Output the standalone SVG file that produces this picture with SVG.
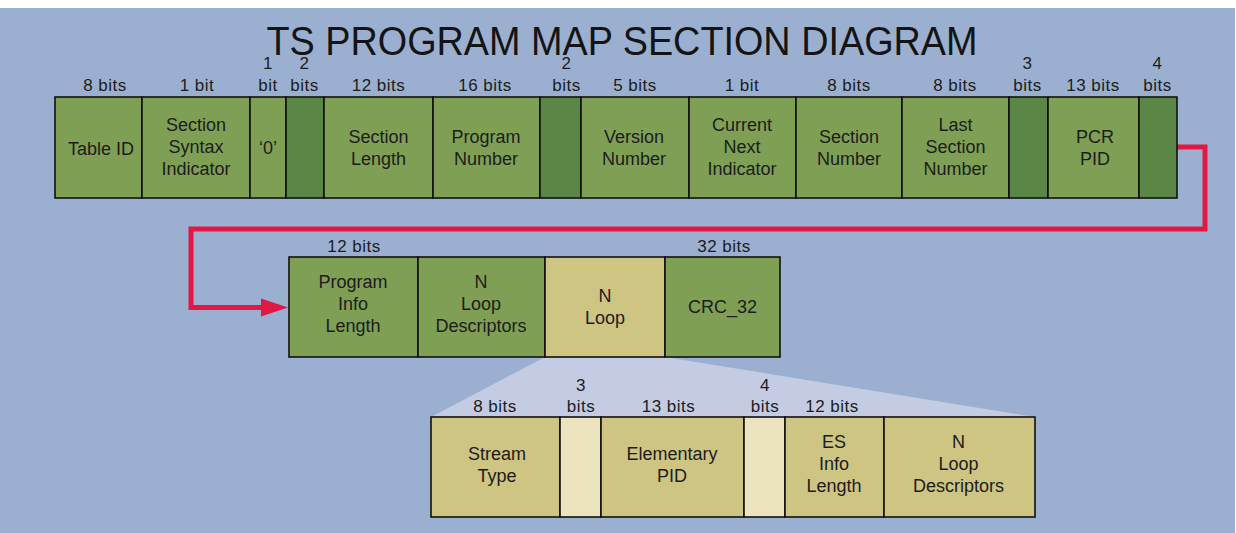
<svg xmlns="http://www.w3.org/2000/svg" width="1236" height="533" viewBox="0 0 1236 533">
<style>
text{font-family:"Liberation Sans",Arial,sans-serif;fill:#1c1c1c;text-anchor:middle}
.t{font-size:18px}
.b{font-size:17px;letter-spacing:0.5px}
.box{stroke:#111;stroke-width:1.6}
.g{fill:#7FA054}
.dg{fill:#5B8746}
.tan{fill:#CFC583}
.lt{fill:#EBE4BE}
.title{font-size:41px;fill:#141414}
</style>
<rect x="0" y="8" width="1235" height="525" fill="#9BB0D0"/>
<polygon points="545,357 665,357 1035,417 431,417" fill="#C3CCE2"/>
<text class="title" x="622" y="55" textLength="711" lengthAdjust="spacingAndGlyphs">TS PROGRAM MAP SECTION DIAGRAM</text>

<g id="connectors">
<polyline points="1177,147 1205,147 1205,229 191,229 191,307.5 270,307.5" fill="none" stroke="#E21844" stroke-width="5" stroke-linejoin="miter"/>
<polygon points="261,298.5 288,307.5 261,316.5" fill="#E21844"/>
</g>

<!-- top row -->
<g id="table-id"><rect class="box g" x="55" y="97" width="87" height="101"/><text class="b" x="105" y="91">8 bits</text><text class="t" x="101" y="155">Table ID</text></g>
<g id="section-syntax-indicator"><rect class="box g" x="142" y="97" width="108" height="101"/><text class="b" x="197" y="91">1 bit</text><text class="t" x="196" y="131">Section</text><text class="t" x="196" y="153">Syntax</text><text class="t" x="196" y="175">Indicator</text></g>
<g id="zero-bit"><rect class="box g" x="250" y="97" width="36" height="101"/><text class="b" x="268" y="69">1</text><text class="b" x="268" y="91">bit</text><text class="t" x="268" y="154">‘0’</text></g>
<g id="reserved-1"><rect class="box dg" x="286" y="97" width="38" height="101"/><text class="b" x="304.5" y="69">2</text><text class="b" x="304.5" y="91">bits</text></g>
<g id="section-length"><rect class="box g" x="324" y="97" width="109" height="101"/><text class="b" x="378.5" y="91">12 bits</text><text class="t" x="378.5" y="143">Section</text><text class="t" x="378.5" y="165">Length</text></g>
<g id="program-number"><rect class="box g" x="433" y="97" width="107" height="101"/><text class="b" x="485" y="91">16 bits</text><text class="t" x="486" y="143">Program</text><text class="t" x="486" y="165">Number</text></g>
<g id="reserved-2"><rect class="box dg" x="540" y="97" width="41" height="101"/><text class="b" x="566.5" y="69">2</text><text class="b" x="566.5" y="91">bits</text></g>
<g id="version-number"><rect class="box g" x="581" y="97" width="108" height="101"/><text class="b" x="635" y="91">5 bits</text><text class="t" x="634" y="143">Version</text><text class="t" x="634" y="165">Number</text></g>
<g id="current-next-indicator"><rect class="box g" x="689" y="97" width="107" height="101"/><text class="b" x="742" y="91">1 bit</text><text class="t" x="742" y="131">Current</text><text class="t" x="742" y="153">Next</text><text class="t" x="742" y="175">Indicator</text></g>
<g id="section-number"><rect class="box g" x="796" y="97" width="106" height="101"/><text class="b" x="849" y="91">8 bits</text><text class="t" x="849" y="143">Section</text><text class="t" x="849" y="165">Number</text></g>
<g id="last-section-number"><rect class="box g" x="902" y="97" width="107" height="101"/><text class="b" x="955" y="91">8 bits</text><text class="t" x="955.5" y="131">Last</text><text class="t" x="955.5" y="153">Section</text><text class="t" x="955.5" y="175">Number</text></g>
<g id="reserved-3"><rect class="box dg" x="1009" y="97" width="39" height="101"/><text class="b" x="1027.5" y="69">3</text><text class="b" x="1027.5" y="91">bits</text></g>
<g id="pcr-pid"><rect class="box g" x="1048" y="97" width="91" height="101"/><text class="b" x="1093" y="91">13 bits</text><text class="t" x="1095" y="143">PCR</text><text class="t" x="1095" y="165">PID</text></g>
<g id="reserved-4"><rect class="box dg" x="1139" y="97" width="38" height="101"/><text class="b" x="1157.5" y="69">4</text><text class="b" x="1157.5" y="91">bits</text></g>

<!-- middle row -->
<g id="program-info-length"><rect class="box g" x="289" y="257" width="129" height="100"/><text class="b" x="354" y="252">12 bits</text><text class="t" x="353" y="288">Program</text><text class="t" x="353" y="310">Info</text><text class="t" x="353" y="332">Length</text></g>
<g id="n-loop-descriptors-1"><rect class="box g" x="418" y="257" width="127" height="100"/><text class="t" x="481" y="288">N</text><text class="t" x="481" y="310">Loop</text><text class="t" x="481" y="332">Descriptors</text></g>
<g id="n-loop"><rect class="box tan" x="545" y="257" width="120" height="100"/><text class="t" x="605" y="302">N</text><text class="t" x="605" y="324">Loop</text></g>
<g id="crc-32"><rect class="box g" x="665" y="257" width="115" height="100"/><text class="b" x="724" y="252">32 bits</text><text class="t" x="722.5" y="313">CRC_32</text></g>

<!-- bottom row -->
<g id="stream-type"><rect class="box tan" x="431" y="417" width="129" height="100"/><text class="b" x="495" y="412">8 bits</text><text class="t" x="497" y="460">Stream</text><text class="t" x="497" y="482">Type</text></g>
<g id="reserved-5"><rect class="box lt" x="560" y="417" width="41" height="100"/><text class="b" x="581" y="391">3</text><text class="b" x="581" y="412">bits</text></g>
<g id="elementary-pid"><rect class="box tan" x="601" y="417" width="143" height="100"/><text class="b" x="668.5" y="412">13 bits</text><text class="t" x="672" y="460">Elementary</text><text class="t" x="672" y="482">PID</text></g>
<g id="reserved-6"><rect class="box lt" x="744" y="417" width="41" height="100"/><text class="b" x="765" y="391">4</text><text class="b" x="765" y="412">bits</text></g>
<g id="es-info-length"><rect class="box tan" x="785" y="417" width="99" height="100"/><text class="b" x="832" y="412">12 bits</text><text class="t" x="834" y="448">ES</text><text class="t" x="834" y="470">Info</text><text class="t" x="834" y="492">Length</text></g>
<g id="n-loop-descriptors-2"><rect class="box tan" x="884" y="417" width="151" height="100"/><text class="t" x="958.5" y="448">N</text><text class="t" x="958.5" y="470">Loop</text><text class="t" x="958.5" y="492">Descriptors</text></g>
</svg>
